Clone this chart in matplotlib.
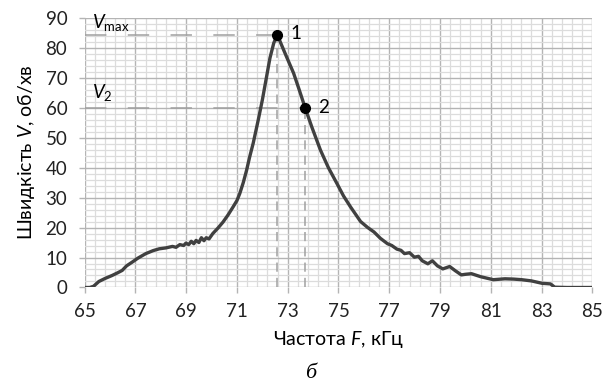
import matplotlib
matplotlib.use("Agg")
import matplotlib.pyplot as plt
import numpy as np
from matplotlib.ticker import FixedLocator, MultipleLocator

plt.rcParams["font.family"] = ["Lato", "DejaVu Sans"]
plt.rcParams["mathtext.fontset"] = "custom"
plt.rcParams["mathtext.rm"] = "Lato"
plt.rcParams["mathtext.it"] = "Lato:italic"

# frequency F, kHz and speed V, rpm
freq = [65.0, 65.2, 65.35, 65.56, 65.8, 66.08, 66.3, 66.48, 66.65, 66.88, 67.1, 67.41,
        67.7, 67.94, 68.2, 68.46, 68.6, 68.75, 68.9, 68.99, 69.1, 69.2, 69.3, 69.39,
        69.5, 69.6, 69.7, 69.79, 69.9, 70.05, 70.25, 70.45, 70.65, 70.85, 71.0, 71.11,
        71.25, 71.38, 71.5, 71.64, 71.84, 72.0, 72.15, 72.3, 72.45, 72.59, 72.75,
        72.95, 73.23, 73.45, 73.69, 73.95, 74.29, 74.6, 74.95, 75.2, 75.48, 75.87,
        76.15, 76.4, 76.65, 76.93, 77.1, 77.3, 77.46, 77.6, 77.8, 77.99, 78.15, 78.3,
        78.52, 78.7, 78.9, 79.11, 79.38, 79.6, 79.84, 80.0, 80.24, 80.6, 81.1, 81.56,
        81.9, 82.22, 82.6, 83.02, 83.35, 83.52, 84.0, 84.94]
speed = [0.0, 0.0, 0.4, 2.0, 3.0, 4.0, 4.9, 5.7, 7.2, 8.5, 9.8, 11.3,
         12.3, 12.9, 13.2, 13.7, 13.4, 14.3, 14.0, 14.8, 14.3, 15.4, 14.6, 15.7,
         15.0, 16.6, 15.6, 16.6, 16.2, 18.0, 19.8, 21.8, 24.2, 26.9, 29.0, 31.3,
         35.0, 39.1, 43.5, 48.1, 55.9, 62.5, 69.5, 76.5, 81.5, 84.3, 81.0,
         77.0, 71.5, 66.0, 59.8, 53.5, 45.8, 40.0, 34.5, 30.5, 26.8, 22.0,
         20.0, 18.5, 16.4, 14.6, 14.0, 12.8, 12.4, 11.3, 11.6, 10.1, 10.4, 8.9,
         7.9, 8.9, 7.2, 6.2, 7.0, 5.6, 4.2, 4.4, 4.6, 3.6, 2.6, 2.9,
         2.8, 2.6, 2.2, 1.4, 1.2, 0.1, 0.0, 0.0]

pts_f = [72.59, 73.69]
pts_v = [84.3, 59.8]
pts_lbl = ["1", "2"]

fig = plt.figure(figsize=(6.09, 3.82), dpi=100)
ax = fig.add_axes([0.139, 0.2474, 0.8336, 0.7066])

ax.set_xlim(65, 85)
ax.set_ylim(0, 90)
ax.xaxis.set_major_locator(FixedLocator(np.arange(65, 86, 2)))
ax.xaxis.set_minor_locator(FixedLocator(np.arange(65, 85.01, 0.4)))
ax.yaxis.set_major_locator(MultipleLocator(10))
ax.yaxis.set_minor_locator(MultipleLocator(2))
ax.grid(which="major", color="#b4b4b4", linewidth=1.0)
ax.grid(which="minor", color="#dcdcdc", linewidth=0.9)
ax.set_axisbelow(True)
for s in ax.spines.values():
    s.set_visible(False)
ax.tick_params(which="major", length=4.5, width=1.0, color="#b4b4b4",
               labelsize=13.5, labelcolor="#222222")
ax.tick_params(which="minor", length=0)
ax.tick_params(axis="x", pad=7)
ax.tick_params(axis="y", pad=8)

# dashed guides
for f, v in zip(pts_f, pts_v):
    ax.plot([65, f], [v, v], color="#a0a0a0", lw=1.1, dashes=(14, 14), zorder=2)
    ax.plot([f, f], [0, v], color="#a0a0a0", lw=1.1, dashes=(6, 4), zorder=2)

ax.plot(freq, speed, color="#404040", lw=2.4, zorder=3)
ax.plot(pts_f, pts_v, "o", color="black", ms=7, zorder=4)
for f, v, t in zip(pts_f, pts_v, pts_lbl):
    ax.text(f + 0.5, v + 0.3, t, fontsize=13.5, va="center", ha="left")

ax.text(65.3, 92, r"$V_{\mathrm{max}}$", fontsize=13.5, va="top", ha="left")
ax.text(65.3, 68.5, r"$V_{2}$", fontsize=13.5, va="top", ha="left")

ax.set_xlabel(r"Частота $\mathit{F}$, кГц", fontsize=14, labelpad=6)
ax.set_ylabel(r"Швидкість $\mathit{V}$, об/хв", fontsize=14, labelpad=6)

fig.text(311 / 609, 1 - 373 / 382, "б", family="Liberation Serif", style="italic",
         fontsize=16, ha="center", va="center")

fig.savefig("out.png", dpi=100)
